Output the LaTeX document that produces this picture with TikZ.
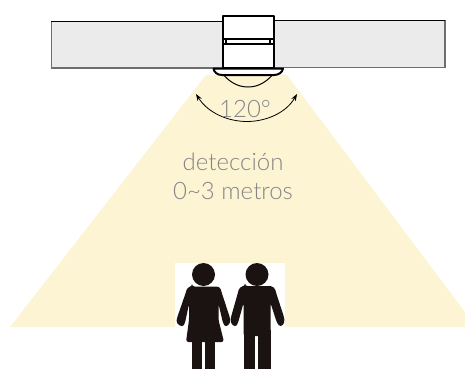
\documentclass[tikz,border=0pt]{standalone}
\usepackage{fontspec}
\setmainfont{Lato}[UprightFont=* Light]
\usetikzlibrary{arrows.meta}
\definecolor{beam}{HTML}{FDF4D3}
\definecolor{bar}{HTML}{EBEBEB}
\definecolor{ink}{HTML}{1A1311}
\definecolor{lbl}{HTML}{858585}
\definecolor{edge}{HTML}{6E6E6E}
\tikzset{
  barbox/.style={fill=bar,draw=none},
  baredge/.style={draw=edge,line width=1.4pt},
  bartop/.style={draw=black,line width=.9pt},
  devline/.style={draw=black,line width=2pt,line join=round},
  person/.style={fill=ink,draw=none},
  lab/.style={text=lbl,font=\fontsize{24}{28}\selectfont,inner sep=0pt},
}
\begin{document}
\begin{tikzpicture}[x=1pt,y=-1pt]
\useasboundingbox (0,0) rectangle (465,369);
\fill[beam] (206,75) -- (287,75) -- (465,312) -- (465,327) -- (10,327) -- cycle;
\fill[white] (175,263) rectangle (285,327);
% ceiling bars
\fill[barbox] (51,21) rectangle (222,67.5);
\fill[barbox] (274,20) rectangle (445,67);
\draw[baredge] (51.3,21) -- (51.3,68) -- (222,68);
\draw[bartop] (51,21.5) -- (222,21.5);
\draw[baredge] (274,67.5) -- (445,67.5) -- (445,20.5);
\draw[bartop] (274,20.5) -- (445,20.5);
% device
\draw[devline,fill=white] (222.5,16) -- (222.5,68) -- (273.5,68) -- (273.5,16) -- cycle;
\draw[devline] (223,39) -- (273,39);
\draw[devline] (223,44.5) -- (273,44.5);
\draw[black,line width=1.2pt] (226,39) -- (226,44.5);
\draw[black,line width=1.2pt] (270,39) -- (270,44.5);
\draw[devline,fill=white] (213.5,68.5) .. controls (214,72) and (217,75) .. (222,75) -- (274,75) .. controls (279,75) and (282.5,72) .. (283,68.5) -- cycle;
\draw[black,line width=1pt] (224,75.5) .. controls (232,84) and (240,87) .. (248,87) .. controls (256,87) and (264,84) .. (272,75.5);
% angle arc
\coordinate (arcL) at (196,94);
\coordinate (arcR) at (297,94);
\draw[black,line width=.8pt,{Stealth[length=7pt,width=5pt]}-{Stealth[length=7pt,width=5pt]}] (arcL) .. controls (208,113) and (228,121.5) .. (247,121.5) .. controls (266,121.5) and (286,113) .. (arcR);
\node[lab] (angle) at (245,109) {120°};
\node[lab] (t1) at (233,162) {detección};
\node[lab] (t2) at (233,191) {0\char`\~3 metros};
% woman
\fill[person] (203.5,274.5) circle (11.5);
\fill[person,rounded corners=2.5pt] (192,286.5) -- (216,286.5) .. controls (219,287) and (220.5,288.5) .. (221.5,292) -- (230,318) .. controls (230.5,324) and (226,328) .. (223,323) -- (218.5,304) -- (218.5,320) -- (224,342) -- (186,342) -- (189,320) -- (189,304) -- (185,323) .. controls (182,328) and (176,324) .. (177,318) -- (186,292) .. controls (187,288.5) and (189,287) .. (192,286.5) -- cycle;
\fill[person] (192,340) rectangle (202,369);
\fill[person] (205,340) rectangle (215,369);
% man
\fill[person] (257,274.5) circle (11.5);
\fill[person,rounded corners=2.5pt] (245,286) -- (269,286) .. controls (273,286.5) and (275,288.5) .. (276,292.5) -- (284,317) .. controls (285,324) and (281,328) .. (277,323) -- (270.5,303) -- (270.5,336) -- (243.5,336) -- (243.5,303) -- (238,323) .. controls (235,328) and (230,324) .. (231,317) -- (238,292.5) .. controls (239,288.5) and (241,286.5) .. (245,286) -- cycle;
\fill[person] (243.5,330) rectangle (255,369);
\fill[person] (258,330) rectangle (270.5,369);
\end{tikzpicture}
\end{document}
